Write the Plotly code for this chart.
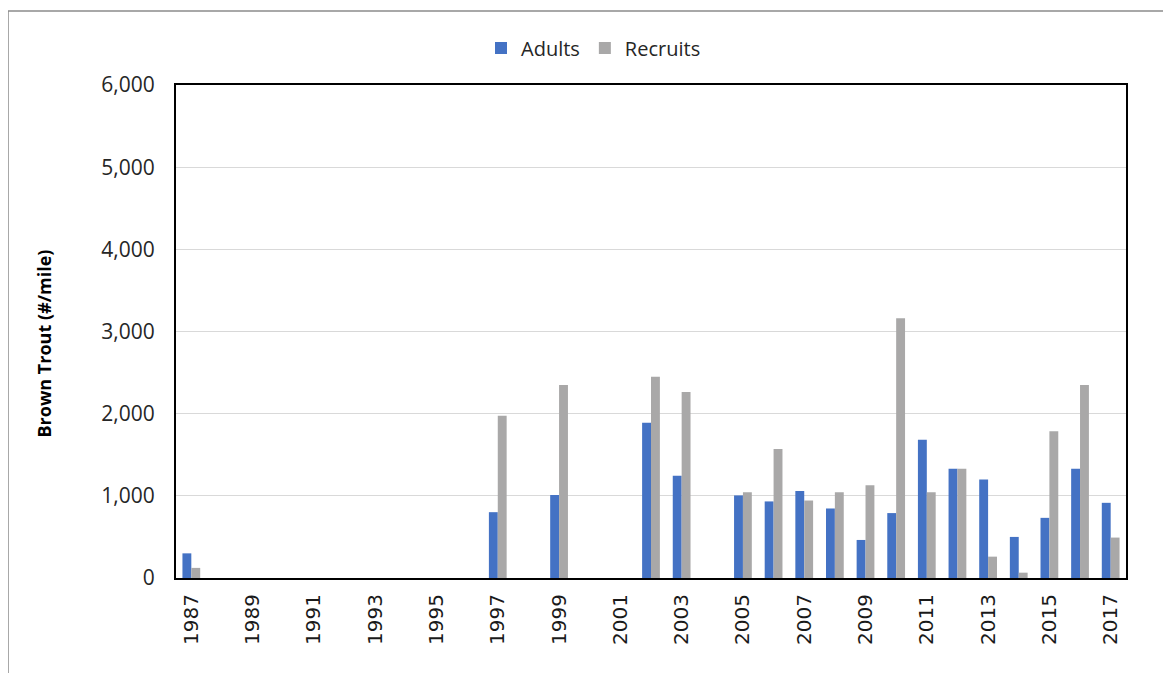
import plotly.graph_objects as go

years = [str(y) for y in range(1987, 2018)]
adults = [300, None, None, None, None, None, None, None, None, None,
          801, None, 1010, None, None, 1890, 1245, None, 1005, 932,
          1058, 846, 463, 790, 1683, 1329, 1200, 500, 732, 1329, 915]
recruits = [123, None, None, None, None, None, None, None, None, None,
            1975, None, 2350, None, None, 2450, 2264, None, 1045, 1570,
            943, 1045, 1130, 3160, 1045, 1329, 260, 65, 1785, 2350, 492]
tick_years = [str(y) for y in range(1987, 2018, 2)]

fig = go.Figure()
fig.add_trace(go.Bar(name="Adults", x=years, y=adults, marker_color="#4472C4",
                     marker_line_width=0))
fig.add_trace(go.Bar(name="Recruits", x=years, y=recruits, marker_color="#A9A8A8",
                     marker_line_width=0))

fig.update_layout(
    width=1171, height=673,
    paper_bgcolor="white", plot_bgcolor="white",
    margin=dict(l=168, r=53, t=77, b=103, autoexpand=False),
    barmode="group", bargap=0.42, bargroupgap=0,
    font=dict(family="Open Sans, Liberation Sans, sans-serif", color="#262626"),
    legend=dict(orientation="h", xref="container", yref="container",
                x=0.500, xanchor="center", y=1 - 40 / 673, yanchor="middle",
                font=dict(size=20, color="#262626"), itemwidth=30,
                traceorder="normal"),
    showlegend=True,
)
fig.update_yaxes(range=[0, 6000], dtick=1000, tickformat=",", automargin=False,
                 showgrid=True, gridcolor="#D9D9D9", gridwidth=1,
                 showline=True, linecolor="black", linewidth=2, mirror=True,
                 ticks="", ticklen=0, zeroline=False, ticklabelstandoff=15,
                 tickfont=dict(size=21, family="Open Sans, sans-serif", color="#262626"))
fig.update_xaxes(type="category", tickmode="array", tickvals=tick_years,
                 ticktext=tick_years, tickangle=-90, automargin=False,
                 showline=True, linecolor="black", linewidth=2, mirror=True,
                 ticks="", showgrid=False, ticklabelstandoff=6,
                 tickfont=dict(size=20, family="DejaVu Sans, sans-serif",
                               color="#1a1a1a"))

fig.add_annotation(text="<b>Brown Trout (#/mile)</b>", textangle=-90,
                   xref="paper", yref="paper",
                   x=(44 - 176) / 950, y=(578 - 343) / 494,
                   xanchor="center", yanchor="middle", showarrow=False,
                   font=dict(size=18, family="Open Sans, sans-serif", color="#000000"))

fig.add_shape(type="rect", xref="paper", yref="paper",
              x0=-168 / 950, x1=1.07, y0=-0.25, y1=(577 - 10) / 493,
              line=dict(color="#8C8C8C", width=1.5), fillcolor="rgba(0,0,0,0)",
              layer="below")

fig.write_html("out.html")
